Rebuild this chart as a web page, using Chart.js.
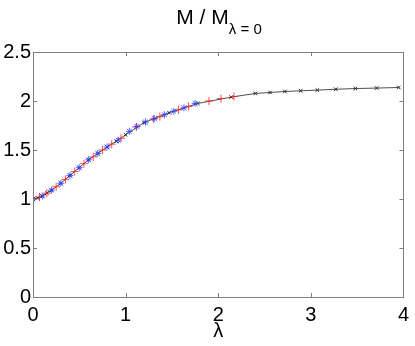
<!DOCTYPE html>
<html>
<head>
<meta charset="utf-8">
<script src="https://cdn.jsdelivr.net/npm/chart.js@4"></script>
<style>
   html, body { margin: 0; padding: 0; background: #fff; }
   #wrap { position: relative; width: 415px; height: 346px; }
   #title {
      position: absolute; left: 33px; width: 372px; top: 6px;
      text-align: center; font-family: 'Liberation Sans', Arial, sans-serif;
      font-size: 21px; line-height: 21px; color: #000;
   }
   #title sub { font-size: 15px; vertical-align: -10px; line-height: 0; }
</style>
</head>
<body>
<div id="wrap">
   <canvas id="myChart" width="415" height="346"></canvas>
   <div id="title">M / M<sub>λ = 0</sub></div>
</div>
<script>
// ============  data  ============
const lambdaBlack = [0, 0.05, 0.1, 0.15, 0.2, 0.3, 0.4, 0.5, 0.6, 0.7, 0.8, 0.9, 1.0, 1.2, 1.47, 1.78, 2.14, 2.4, 2.56, 2.72, 2.89, 3.07, 3.27, 3.48, 3.71, 3.95];
const mBlack = [1.00, 1.01, 1.03, 1.06, 1.09, 1.16, 1.24, 1.32, 1.40, 1.465, 1.53, 1.59, 1.655, 1.78, 1.88, 1.975, 2.04, 2.077, 2.087, 2.097, 2.104, 2.111, 2.12, 2.127, 2.132, 2.138];

const lambdaRed = [0, 0.07, 0.15, 0.25, 0.35, 0.45, 0.55, 0.65, 0.75, 0.85, 0.95, 1.115, 1.30, 1.37, 1.57, 1.68, 1.90, 2.03, 2.17];
const mRed = [1.00, 1.02, 1.06, 1.125, 1.20, 1.28, 1.36, 1.43, 1.50, 1.56, 1.62, 1.735, 1.815, 1.84, 1.91, 1.945, 2.00, 2.025, 2.045];

const lambdaBlue = [0, 0.1, 0.2, 0.3, 0.4, 0.5, 0.6, 0.7, 0.8, 0.92, 1.04, 1.12, 1.215, 1.31, 1.42, 1.52, 1.63, 1.75];
const mBlue = [1.00, 1.03, 1.09, 1.16, 1.24, 1.32, 1.40, 1.465, 1.53, 1.60, 1.69, 1.74, 1.785, 1.82, 1.86, 1.895, 1.93, 1.975];

const xTicks = [0, 1, 2, 3, 4];
const yTicks = [0, 0.5, 1, 1.5, 2, 2.5];

const toPts = (xs, ys) => xs.map((x, i) => ({ x: x, y: ys[i] }));

Chart.defaults.font.family = "'Liberation Sans', Arial, sans-serif";
Chart.defaults.font.size = 20;
Chart.defaults.color = '#000';

// box + inward ticks, matlab style
const boxTicks = {
   id: 'boxTicks',
   afterDraw(chart) {
      const c = chart.ctx, a = chart.chartArea;
      const xs = chart.scales.x, ys = chart.scales.y;
      const len = 4;
      c.save();
      c.strokeStyle = '#7f7f7f';
      c.lineWidth = 1;
      c.beginPath();
      xTicks.forEach(v => {
         const px = Math.round(xs.getPixelForValue(v)) + 0.5;
         c.moveTo(px, a.bottom); c.lineTo(px, a.bottom - len);
         c.moveTo(px, a.top); c.lineTo(px, a.top + len);
      });
      yTicks.forEach(v => {
         const py = Math.round(ys.getPixelForValue(v)) + 0.5;
         c.moveTo(a.left, py); c.lineTo(a.left + len, py);
         c.moveTo(a.right, py); c.lineTo(a.right - len, py);
      });
      c.stroke();
      c.strokeRect(Math.round(a.left) + 0.5, Math.round(a.top) + 0.5,
         Math.round(a.right - a.left), Math.round(a.bottom - a.top));
      c.restore();
   }
};

let ctx = document.getElementById('myChart').getContext('2d');
let myChart = new Chart(ctx, {
   type: 'scatter',
   data: {
      datasets: [{
         label: 'blue',
         data: toPts(lambdaBlue, mBlue),
         showLine: false,
         pointStyle: 'star',
         pointRadius: 3.5,
         borderColor: 'rgba(40, 60, 255, 0.75)',
         backgroundColor: 'rgba(40, 60, 255, 0.75)',
         pointBorderWidth: 1,
      }, {
         label: 'red',
         data: toPts(lambdaRed, mRed),
         showLine: false,
         pointStyle: 'cross',
         pointRadius: 4,
         borderColor: 'rgba(255, 30, 30, 0.8)',
         backgroundColor: 'rgba(255, 30, 30, 0.8)',
         pointBorderWidth: 1,
      }, {
         label: 'black',
         data: toPts(lambdaBlack, mBlack),
         showLine: true,
         borderColor: '#222',
         borderWidth: 0.8,
         pointStyle: 'crossRot',
         pointRadius: 2.5,
         pointBorderColor: '#222',
         pointBorderWidth: 1,
      }],
   },
   options: {
      responsive: false,
      animation: false,
      layout: {
         padding: { top: 52, right: 10, left: 0, bottom: 0 },
      },
      scales: {
         x: {
            type: 'linear',
            min: 0,
            max: 4,
            border: { display: false },
            grid: { display: false, drawTicks: false },
            afterBuildTicks: s => { s.ticks = xTicks.map(v => ({ value: v })); },
            afterFit: s => { s.height = 49; },
            ticks: { padding: 6, maxRotation: 0 },
            title: {
               display: true,
               text: 'λ',
               padding: { top: 0, bottom: 3 },
            },
         },
         y: {
            type: 'linear',
            min: 0,
            max: 2.5,
            border: { display: false },
            grid: { display: false, drawTicks: false },
            afterBuildTicks: s => { s.ticks = yTicks.map(v => ({ value: v })); },
            afterFit: s => { s.width = 33; },
            ticks: { padding: 2, callback: v => String(v) },
         },
      },
      plugins: {
         legend: { display: false },
         tooltip: { enabled: false },
      },
   },
   plugins: [boxTicks],
});
</script>
</body>
</html>
